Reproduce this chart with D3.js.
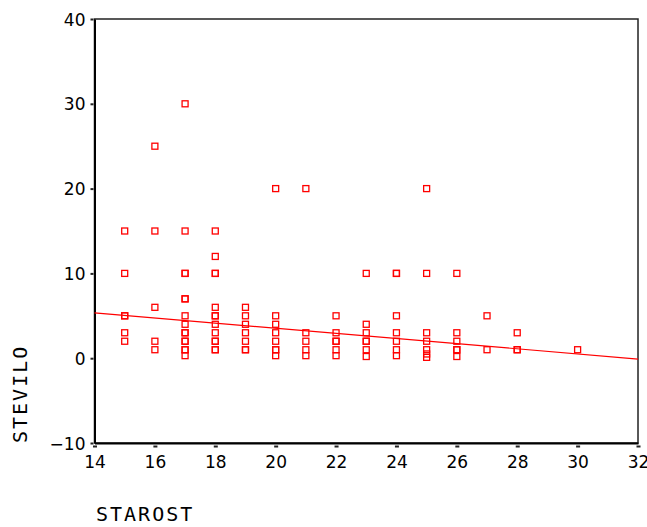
<!DOCTYPE html>
<html>
<head>
<meta charset="utf-8">
<script src="https://cdn.jsdelivr.net/npm/d3@7"></script>
<style>
	body { margin: 0; background: #fff; }
	.tick text { font-family: "DejaVu Sans", sans-serif; font-size: 17px; fill: #000; }
	.axisLabel { font-family: "DejaVu Sans Mono", monospace; font-size: 20px; letter-spacing: 2px; fill: #000; }
</style>
</head>
<body>
<svg id="chart"></svg>
<script>
// starost (age) vs stevilo (count), one entry per point
var starost = [
	15,15,15,15,15,15,
	16,16,16,16,16,
	17,17,17,17,17,17,17,17,17,17,17,17,17,17,17,
	18,18,18,18,18,18,18,18,18,18,18,18,18,
	19,19,19,19,19,19,19,
	20,20,20,20,20,20,20,20,
	21,21,21,21,21,
	22,22,22,22,22,22,
	23,23,23,23,23,23,23,
	24,24,24,24,24,24,24,
	25,25,25,25,25,25,25,
	26,26,26,26,26,26,
	27,27,
	28,28,28,
	30
];
var stevilo = [
	15,10,5,5,3,2,
	25,15,6,2,1,
	30,15,10,10,7,7,5,4,3,3,2,2,1,1,0.3,
	15,12,10,10,6,5,5,4,3,2,2,1,1,
	6,5,4,3,2,1,1,
	20,5,4,3,2,1,1,0.3,
	20,3,2,1,0.3,
	5,3,2,2,1,0.3,
	10,4,3,2,2,1,0.2,
	10,10,5,3,2,1,0.3,
	20,10,3,2,1,0.5,0.1,
	10,3,2,1,1,0.2,
	5,1,
	3,1,1,
	1
];
var xTicks = [14,16,18,20,22,24,26,28,30,32];
var yTicks = [-10,0,10,20,30,40];
// linear fit line, read at both ends of the x range
var fitX = [14, 32];
var fitY = [5.35, -0.1];

var width = 647,
	height = 527,
	margin = {top: 19, left: 94.5, right: 9, bottom: 84};

var svg = d3.select('#chart')
	.attr('width', width)
	.attr('height', height);

var x = d3.scaleLinear()
	.domain([14, 32])
	.range([margin.left, width - margin.right]);

var y = d3.scaleLinear()
	.domain([-10, 40])
	.range([height - margin.bottom, margin.top]);

// frame
svg.append('rect')
	.attr('x', x(14))
	.attr('y', y(40))
	.attr('width', x(32) - x(14))
	.attr('height', y(-10) - y(40))
	.attr('fill', 'none')
	.attr('stroke', '#222')
	.attr('stroke-width', 1.5);

var xAxis = d3.axisBottom(x)
	.tickValues(xTicks)
	.tickSize(0)
	.tickPadding(13);

var gx = svg.append('g')
	.attr('class', 'x axis')
	.attr('transform', 'translate(0,' + y(-10) + ')')
	.call(xAxis);
gx.select('.domain')
	.attr('stroke', '#000')
	.attr('stroke-width', 2);
gx.selectAll('.tick').each(function(){
	d3.select(this).select('line').remove();
	d3.select(this).append('rect')
		.attr('x', -2)
		.attr('y', 2.5)
		.attr('width', 4)
		.attr('height', 2)
		.attr('fill', '#222');
});

var yAxis = d3.axisLeft(y)
	.tickValues(yTicks)
	.tickSize(0)
	.tickPadding(9)
	.tickFormat(function(d){ return d < 0 ? '\u2212' + Math.abs(d) : d; });

var gy = svg.append('g')
	.attr('class', 'y axis')
	.attr('transform', 'translate(' + x(14) + ',0)')
	.call(yAxis);
gy.select('.domain')
	.attr('stroke', '#000')
	.attr('stroke-width', 2);
gy.selectAll('.tick').each(function(){
	d3.select(this).select('line').remove();
	d3.select(this).append('rect')
		.attr('x', -4)
		.attr('y', -1)
		.attr('width', 3)
		.attr('height', 2)
		.attr('fill', '#222');
});
gy.selectAll('.tick text').attr('dy', '0.36em');

// fit line
svg.append('line')
	.attr('x1', x(fitX[0]))
	.attr('y1', y(fitY[0]))
	.attr('x2', x(fitX[1]))
	.attr('y2', y(fitY[1]))
	.attr('stroke', '#ff0000')
	.attr('stroke-width', 1.2);

// points
var pts = starost.map(function(d, i){
	return {x: d, y: stevilo[i]};
});

svg.append('g')
	.attr('class', 'points')
	.selectAll('rect')
	.data(pts)
	.enter().append('rect')
	.attr('x', function(d){ return x(d.x) - 3; })
	.attr('y', function(d){ return y(d.y) - 3; })
	.attr('width', 6)
	.attr('height', 6)
	.attr('fill', 'none')
	.attr('stroke', '#ff0000')
	.attr('stroke-width', 1.3);

// axis titles
svg.append('text')
	.attr('class', 'axisLabel')
	.attr('x', 96)
	.attr('y', 521)
	.text('STAROST');

svg.append('text')
	.attr('class', 'axisLabel')
	.attr('transform', 'translate(27,443) rotate(-90)')
	.text('STEVILO');
</script>
</body>
</html>
